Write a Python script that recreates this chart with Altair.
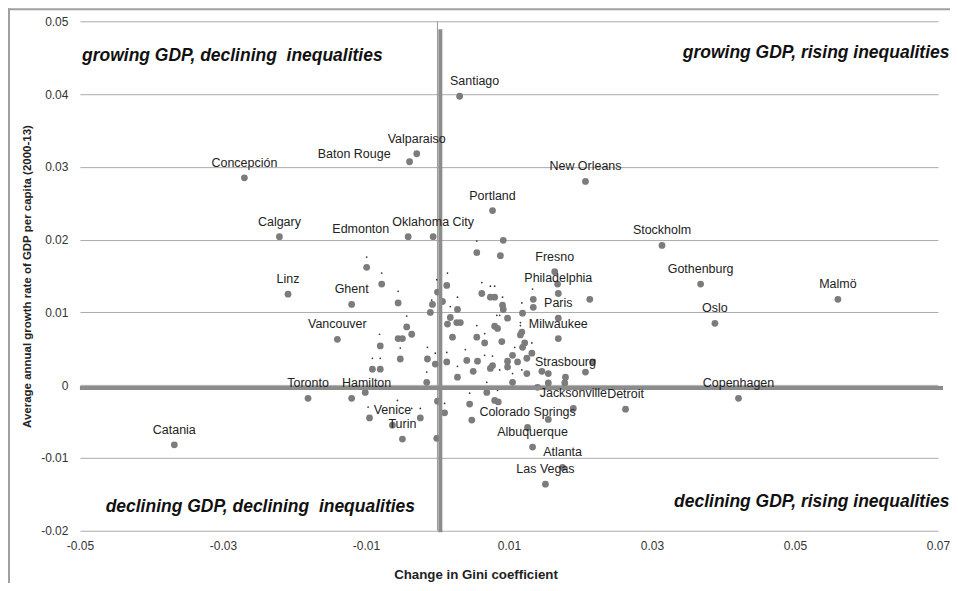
import altair as alt
import pandas as pd

# ---------------- data ----------------
city_names = ["Santiago", "Valparaiso", "Baton Rouge", "Concepción", "Calgary", "Edmonton",
              "Oklahoma City", "Portland", "New Orleans", "Stockholm", "Fresno", "Philadelphia",
              "Paris", "Milwaukee", "Gothenburg", "Malmö", "Oslo", "Linz", "Ghent", "Vancouver",
              "Toronto", "Hamilton", "Venice", "Turin", "Catania", "Strasbourg", "Jacksonville",
              "Detroit", "Copenhagen", "Colorado Springs", "Albuquerque", "Atlanta", "Las Vegas"]
city_x = [0.0031, -0.0029, -0.0039, -0.0270, -0.0221, -0.0041,
          -0.0006, 0.0077, 0.0207, 0.0314, 0.0164, 0.0169,
          0.0169, 0.0169, 0.0368, 0.0560, 0.0388, -0.0209, -0.0120, -0.0140,
          -0.0181, -0.0120, -0.0063, -0.0049, -0.0368, 0.0179, 0.0190,
          0.0263, 0.0421, 0.0126, 0.0133, 0.0175, 0.0151]
city_y = [0.0397, 0.0318, 0.0307, 0.0285, 0.0204, 0.0204,
          0.0204, 0.0240, 0.0280, 0.0192, 0.0156, 0.0126,
          0.0092, 0.0064, 0.0139, 0.0118, 0.0085, 0.0125, 0.0111, 0.0063,
          -0.0018, -0.0018, -0.0055, -0.0074, -0.0082, 0.0011, -0.0032,
          -0.0033, -0.0018, -0.0058, -0.0085, -0.0113, -0.0136]
label_side = {"Baton Rouge": "left", "Edmonton": "left", "Santiago": "right", "Hamilton": "right"}

other_x = [0.0055, 0.0092, 0.0088, -0.0099, -0.0078, -0.0055, 0.0000, 0.0013, 0.0007, -0.0007,
           -0.0010, 0.0028, 0.0062, 0.0074, 0.0080, 0.0091, 0.0092, 0.0098, 0.0119, 0.0134,
           0.0134, 0.0213, 0.0168, 0.0018, 0.0014, 0.0027, 0.0032, 0.0021, 0.0055, 0.0066,
           0.0090, 0.0080, 0.0084, 0.0118, 0.0116, 0.0119, 0.0122, 0.0132, -0.0043, -0.0036,
           -0.0055, -0.0049, -0.0080, -0.0052, -0.0014, -0.0003, 0.0013, 0.0041, 0.0056, 0.0050,
           0.0028, -0.0091, -0.0080, -0.0015, -0.0101, 0.0000, 0.0010, 0.0045, 0.0048, -0.0095,
           -0.0024, -0.0001, 0.0105, 0.0077, 0.0074, 0.0098, 0.0112, 0.0125, 0.0098, 0.0125,
           0.0146, 0.0155, 0.0207, 0.0217, 0.0178, 0.0105, 0.0140, 0.0155, 0.0069, 0.0080,
           0.0085, 0.0155]
other_y = [0.0182, 0.0199, 0.0178, 0.0162, 0.0139, 0.0113, 0.0128, 0.0137, 0.0115, 0.0111,
           0.0100, 0.0104, 0.0126, 0.0121, 0.0121, 0.0110, 0.0104, 0.0092, 0.0099, 0.0118,
           0.0107, 0.0118, 0.0139, 0.0093, 0.0084, 0.0086, 0.0086, 0.0066, 0.0066, 0.0058,
           0.0060, 0.0081, 0.0078, 0.0073, 0.0069, 0.0052, 0.0058, 0.0044, 0.0080, 0.0070,
           0.0064, 0.0064, 0.0054, 0.0036, 0.0036, 0.0029, 0.0032, 0.0034, 0.0033, 0.0019,
           0.0011, 0.0022, 0.0022, 0.0004, -0.0010, -0.0022, -0.0038, -0.0026, -0.0048, -0.0045,
           -0.0045, -0.0073, 0.0041, 0.0027, 0.0023, 0.0033, 0.0032, 0.0037, 0.0025, 0.0016,
           0.0019, 0.0016, 0.0018, 0.0032, 0.0003, 0.0004, -0.0003, 0.0003, -0.0010, -0.0021,
           -0.0023, -0.0047]

speck_x = [-0.0099, -0.0078, -0.0055, 0.0014, -0.0001, 0.0028, 0.0018, -0.0043, -0.0081, 0.0055,
           -0.0008, 0.0055, 0.0062, 0.0074, 0.0080, 0.0091, 0.0133, 0.0118, 0.0083, 0.0087,
           0.0116, 0.0116, 0.0066, -0.0052, -0.0091, -0.0080, -0.0014, -0.0003, -0.0015, 0.0013,
           0.0028, 0.0039, 0.0003, 0.0010, 0.0045, -0.0024, -0.0056, -0.0097, -0.0036, 0.0066,
           0.0077, 0.0108, 0.0132, 0.0118, 0.0087, 0.0069, 0.0084, 0.0105]
speck_y = [0.0176, 0.0154, 0.0129, 0.0154, 0.0145, 0.0121, 0.0108, 0.0095, 0.0070, 0.0082,
           0.0117, 0.0198, 0.0141, 0.0136, 0.0136, 0.0121, 0.0132, 0.0113, 0.0096, 0.0096,
           0.0086, 0.0082, 0.0071, 0.0051, 0.0037, 0.0037, 0.0052, 0.0044, 0.0018, 0.0045,
           0.0026, 0.0049, -0.0007, -0.0025, -0.0011, -0.0032, -0.0021, -0.0030, -0.0032, 0.0041,
           0.0040, 0.0052, 0.0058, 0.0021, 0.0021, 0.0004, -0.0007, 0.0016]

quadrant_texts = ["growing GDP, declining\u00a0 inequalities", "growing GDP, rising inequalities",
                  "declining GDP, declining\u00a0 inequalities", "declining GDP, rising inequalities"]
quadrant_x = [-0.0497, 0.0716, -0.0464, 0.0716]
quadrant_y = [0.0452, 0.0456, -0.0167, -0.0160]
quadrant_align = ["left", "right", "left", "right"]

# thick quadrant dividers (as drawn in the picture)
divider_v_x = 0.0004
divider_v_y = [0.0489, -0.0202]
divider_h_y = -0.0004
divider_h_x = [-0.05, 0.0707]

x_ticks = [-0.05, -0.03, -0.01, 0.01, 0.03, 0.05, 0.07]
y_ticks = [-0.02, -0.01, 0.0, 0.01, 0.02, 0.03, 0.04, 0.05]

# ---------------- chart ----------------
FONT = "Liberation Sans"
label_expr = "datum.value == 0 ? '0' : (datum.value < 0 ? '-' : '') + format(abs(datum.value), '.2f')"

xscale = alt.Scale(domain=[-0.05, 0.07], nice=False, zero=False)
yscale = alt.Scale(domain=[-0.02, 0.05], nice=False, zero=False)

xaxis = alt.Axis(values=x_ticks, labelExpr=label_expr, grid=False, domain=False, ticks=False,
                 labelFlush=False, labelOverlap=False,
                 labelFont=FONT, labelFontSize=12, labelColor="#333333", labelPadding=10,
                 title="Change in Gini coefficient", titleFont=FONT, titleFontSize=13.3,
                 titleFontWeight="bold", titleColor="#222222", titleX=396, titleY=44,
                 titleBaseline="middle")
yaxis = alt.Axis(values=y_ticks, labelExpr=label_expr, grid=True, gridColor="#ababab",
                 gridWidth=1, domain=False, ticks=False, labelFont=FONT, labelFontSize=12,
                 labelFlush=False, labelOverlap=False,
                 labelColor="#333333", labelPadding=12,
                 title="Average annual growth rate of GDP per capita (2000-13)", titleFont=FONT,
                 titleFontSize=11.5, titleFontWeight="bold", titleColor="#222222",
                 titleX=-52, titleBaseline="middle", titleAngle=270)

cities = pd.DataFrame({"name": city_names, "x": city_x, "y": city_y})
cities["side"] = [label_side.get(n, "above") for n in city_names]
others = pd.DataFrame({"x": other_x, "y": other_y})
specks = pd.DataFrame({"x": speck_x, "y": speck_y})
quads = pd.DataFrame({"t": quadrant_texts, "x": quadrant_x, "y": quadrant_y, "a": quadrant_align})

base_axes = alt.Chart(pd.DataFrame({"x": [0.0], "y": [0.0]})).mark_point(opacity=0).encode(
    x=alt.X("x:Q", scale=xscale, axis=xaxis),
    y=alt.Y("y:Q", scale=yscale, axis=yaxis),
)

thin_v = alt.Chart(pd.DataFrame({"x": [0.0]})).mark_rule(color="#9a9a9a", strokeWidth=1).encode(
    x=alt.X("x:Q", scale=xscale))

vline = alt.Chart(pd.DataFrame({"x": [divider_v_x], "y": [divider_v_y[0]], "y2": [divider_v_y[1]]})
                  ).mark_rule(color="#8c8c8c", strokeWidth=4).encode(
    x=alt.X("x:Q", scale=xscale), y=alt.Y("y:Q", scale=yscale), y2="y2:Q")
hline = alt.Chart(pd.DataFrame({"y": [divider_h_y], "x": [divider_h_x[0]], "x2": [divider_h_x[1]]})
                  ).mark_rule(color="#8c8c8c", strokeWidth=4).encode(
    y=alt.Y("y:Q", scale=yscale), x=alt.X("x:Q", scale=xscale), x2="x2:Q")

pts_other = alt.Chart(others).mark_point(filled=True, size=46, color="#7c7c7c", opacity=1).encode(
    x=alt.X("x:Q", scale=xscale), y=alt.Y("y:Q", scale=yscale))
pts_city = alt.Chart(cities).mark_point(filled=True, size=46, color="#7c7c7c", opacity=1).encode(
    x=alt.X("x:Q", scale=xscale), y=alt.Y("y:Q", scale=yscale))
pts_speck = alt.Chart(specks).mark_point(filled=True, size=3, color="#333333", opacity=1).encode(
    x=alt.X("x:Q", scale=xscale), y=alt.Y("y:Q", scale=yscale))

def city_labels(side, align, dx, dy):
    return alt.Chart(cities).transform_filter(alt.datum.side == side).mark_text(
        font=FONT, fontSize=12.5, color="#222222", align=align, baseline="middle", dx=dx, dy=dy
    ).encode(x=alt.X("x:Q", scale=xscale), y=alt.Y("y:Q", scale=yscale), text="name:N")

lab_above = city_labels("above", "center", 0, -15)
lab_left = city_labels("left", "right", -19, -8)
lab_right = city_labels("right", "center", 15, -15)

def quad_text(align):
    return alt.Chart(quads).transform_filter(alt.datum.a == align).mark_text(
        font=FONT, fontSize=17.5, fontWeight="bold", fontStyle="italic", color="#111111",
        align=align, baseline="middle"
    ).encode(x=alt.X("x:Q", scale=xscale), y=alt.Y("y:Q", scale=yscale), text="t:N")

frame_top = alt.Chart(pd.DataFrame({"x": [0]})).mark_rule(color="#a0a0a0", strokeWidth=2).encode(
    x=alt.value(-72), x2=alt.value(872), y=alt.value(-12))
frame_left = alt.Chart(pd.DataFrame({"x": [0]})).mark_rule(color="#a0a0a0", strokeWidth=2).encode(
    x=alt.value(-71), y=alt.value(-13), y2=alt.value(570))

chart = alt.layer(
    base_axes, thin_v, pts_speck, pts_other, pts_city, vline, hline,
    lab_above, lab_left, lab_right, quad_text("left"), quad_text("right"),
    frame_top, frame_left
).properties(
    width=859, height=510,
    autosize=alt.AutoSizeParams(type="none"),
    padding={"left": 72, "top": 13, "right": 12, "bottom": 52},
    background="white",
).configure_view(stroke=None)

chart.save("out.html", embed_options={"renderer": "svg", "actions": False})
